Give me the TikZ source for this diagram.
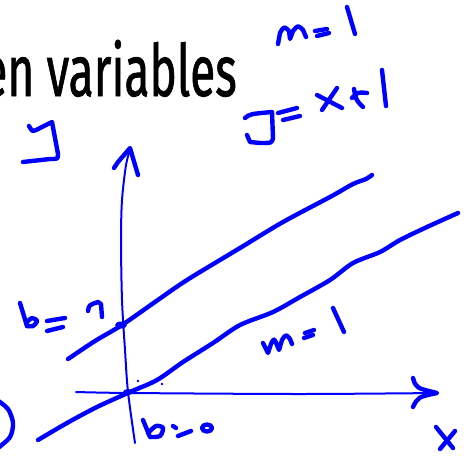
\documentclass[tikz,border=0pt]{standalone}
\usepackage{fontspec}
\setmainfont{Fira Sans}
\newfontfamily\titlefont{Fira Sans}[FakeBold=1.2]
\definecolor{inkblue}{RGB}{0,0,255}
\begin{document}
\begin{tikzpicture}[x=0.75pt,y=-0.75pt,
  pen/.style={draw=inkblue, line width=3.3pt, line cap=round, line join=round},
  finepen/.style={draw=inkblue, line width=1.5pt, line cap=round, line join=round}]
\useasboundingbox (0,0) rectangle (467,457);
% title (cut at the left edge)
\node[anchor=base east, inner sep=0pt] (title) at (237,96)
  {\scalebox{0.64}[1]{\titlefont\fontsize{54}{60}\selectfont en variables}};
% y label (top left)
\draw[pen] plot[smooth] coordinates {(29,126) (33,131) (40,128) (52,122)} -- (58,154) .. controls (58,159) .. (50,159) -- (23,162);
% y axis
\draw[finepen] plot[smooth] coordinates {(130,150) (126,165) (122,200) (121,240) (122,300) (125,350) (128,392) (135,443)};
\draw[pen] (114,168) -- (118,162) -- (130,148) -- (138,175);
% x axis
\draw[finepen] plot[smooth] coordinates {(76,392) (130,393) (300,394) (437,393)};
\draw[pen] (413,378) .. controls (416,388) .. (437,393) .. controls (418,397) .. (413,407);
% line y = x + 1
\draw[pen] plot[smooth] coordinates {(68,359) (95,341) (122,325) (155,302) (187,280) (240,248) (283,222) (330,197) (353,184) (366,179) (372,175)};
\fill[inkblue] (121,325) ellipse (6 and 3.5);
% line y = x
\draw[pen] plot[smooth] coordinates {(38,440) (67,423) (97,407) (130,392) (157,380) (183,362) (213,343) (240,325) (273,312) (300,297) (330,280) (353,263) (380,252) (400,240) (427,227) (458,213)};
\fill[inkblue] (128,392) ellipse (5 and 3);
\fill[inkblue] (138,381) circle (1.3);
\fill[inkblue] (162,384) circle (1.3);
% partial circle at left
\draw[pen] plot[smooth] coordinates {(-3,400) (8,409) (13,423) (10,437) (-2,448)};
% b = 1
\draw[pen] (20,303) -- (27,326);
\draw[pen] plot[smooth] coordinates {(26,323) (32,318) (37,321) (33,326) (27,326)};
\draw[pen] (47,321) -- (65,318);
\draw[pen] (47,331) -- (63,327);
\draw[pen] (88,311) .. controls (89,305) .. (98,302) -- (101,304) -- (102,317);
% b = 0
\draw[pen] (143,420) -- (150,437);
\draw[pen] plot[smooth] coordinates {(148,433) (156,426) (163,428) (160,436) (151,437)};
\draw[pen] (173,426) -- (176,428);
\draw[pen] (178,436) -- (191,431);
\draw[pen] (207,428) ellipse (5 and 3.5);
% m = 1 (lower)
\draw[pen] (263,343) -- (268,353) -- (271,344) .. controls (274,338) .. (277,345) -- (279,350) -- (282,340) .. controls (286,334) .. (290,339) -- (292,344);
\draw[pen] (305,333) -- (314,330);
\draw[pen] (304,338) -- (313,335);
\draw[pen] (333,308) -- (344,332);
% x label
\draw[pen] (436,427) -- (453,448);
\draw[pen] (455,431) -- (440,449);
% m = 1 (top)
\draw[pen] (278,44) -- (280,33) .. controls (284,26) .. (289,31) -- (290,39) -- (293,31) .. controls (298,25) .. (303,30) -- (306,37);
\draw[pen] (315,31) -- (327,29);
\draw[pen] (317,36) -- (329,33);
\draw[pen] (347,7) -- (355,34);
% y = x + 1 (top)
\draw[pen] (245,118) .. controls (250,114) .. (272,112) -- (273,138) .. controls (272,143) .. (260,143) -- (250,142) -- (247,135);
\draw[pen] (278,113) -- (297,108);
\draw[pen] (283,120) -- (300,116);
\draw[pen] (317,95) -- (342,108);
\draw[pen] (337,88) -- (322,110);
\draw[pen] (352,98) .. controls (358,92) .. (367,93);
\draw[pen] (354,89) .. controls (356,100) .. (363,107);
\draw[pen] (382,70) -- (386,106);
\end{tikzpicture}
\end{document}
